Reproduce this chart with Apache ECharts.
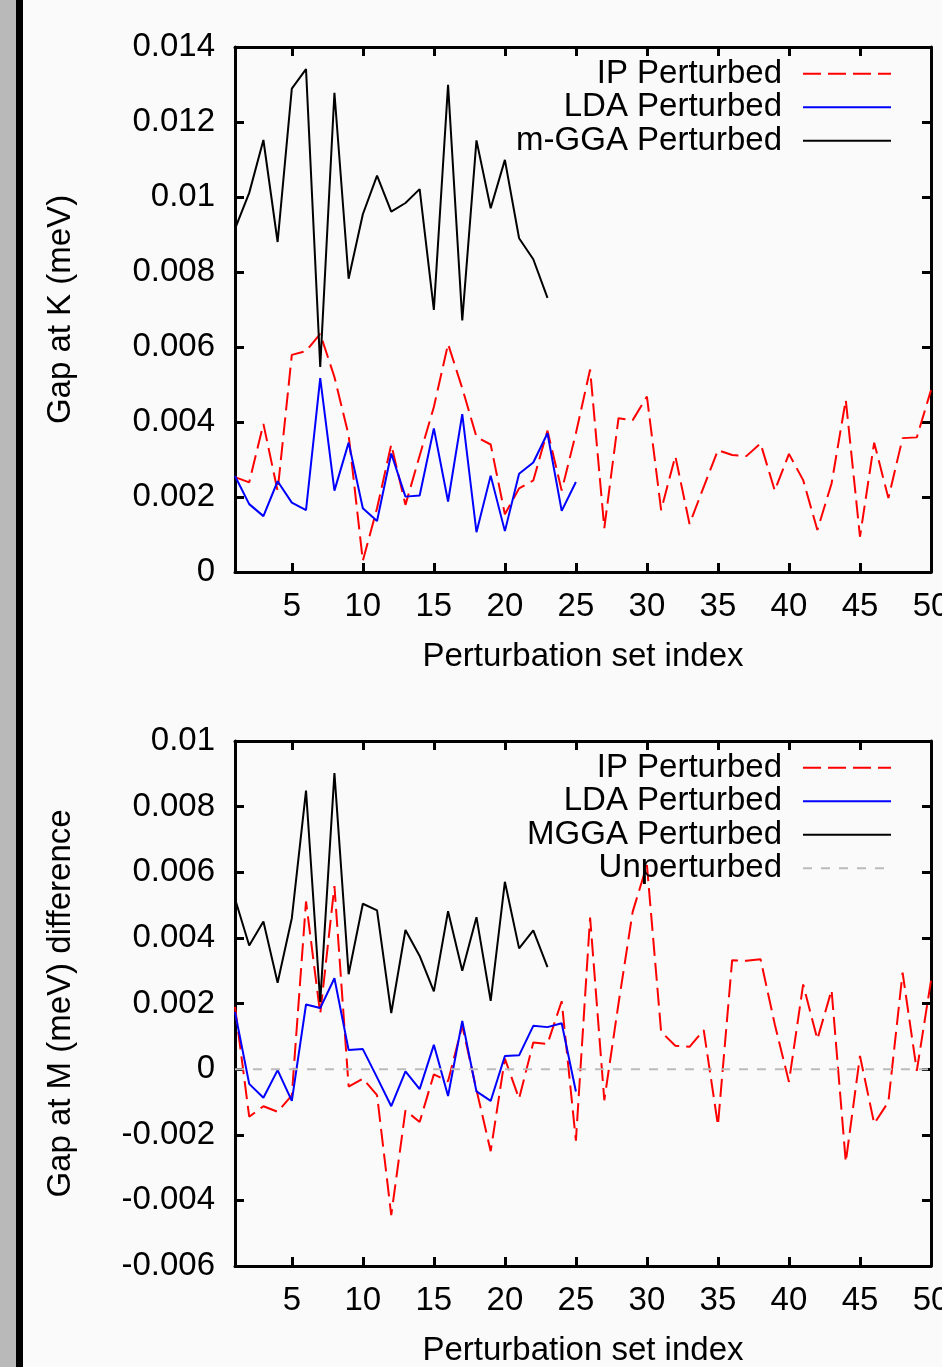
<!DOCTYPE html>
<html>
<head>
<meta charset="utf-8">
<script src="https://cdn.jsdelivr.net/npm/echarts@6/dist/echarts.min.js"></script>
<style>
  html, body { margin: 0; padding: 0; background: #fafafa; }
  #chart { width: 942px; height: 1367px; }
</style>
</head>
<body>
<div id="chart"></div>
<script>
// x: perturbation set index
var setIndex = [1, 2, 3, 4, 5, 6, 7, 8, 9, 10, 11, 12, 13, 14, 15, 16, 17, 18, 19, 20,
  21, 22, 23, 24, 25, 26, 27, 28, 29, 30, 31, 32, 33, 34, 35, 36, 37, 38, 39, 40,
  41, 42, 43, 44, 45, 46, 47, 48, 49, 50];
var xTicks = [5, 10, 15, 20, 25, 30, 35, 40, 45, 50];

// gap at K
var ipK = [0.00253, 0.00239, 0.00395, 0.00216, 0.00579, 0.00589, 0.00635, 0.0052, 0.00365, 0.0003,
  0.0017, 0.0034, 0.00179, 0.0031, 0.0044, 0.00608, 0.0049, 0.0036, 0.0034, 0.00154,
  0.00223, 0.00244, 0.00377, 0.00217, 0.0037, 0.0054, 0.00117, 0.0041, 0.00405, 0.00468,
  0.00165, 0.00309, 0.00128, 0.00227, 0.00325, 0.00312, 0.00309, 0.00343, 0.00217, 0.00315,
  0.00245, 0.00112, 0.00236, 0.00459, 0.00094, 0.00345, 0.00197, 0.00357, 0.00359, 0.00485];
var ldaK = [0.00256, 0.00181, 0.00149, 0.00242, 0.00185, 0.00165, 0.00517, 0.00217, 0.00345, 0.0017,
  0.00136, 0.00316, 0.00201, 0.00204, 0.00383, 0.00188, 0.00421, 0.00106, 0.00257, 0.00109,
  0.00262, 0.00292, 0.0037, 0.00163, 0.0024];
var mggaK = [0.00915, 0.01011, 0.01152, 0.0088, 0.01289, 0.01341, 0.00547, 0.01278, 0.00782, 0.00954,
  0.01057, 0.00961, 0.00984, 0.01021, 0.00699, 0.01299, 0.00671, 0.01151, 0.0097, 0.01099,
  0.0089, 0.00834, 0.00731];

// gap at M difference
var ipM = [0.0019, -0.00145, -0.00113, -0.0013, -0.0008, 0.00511, 0.00168, 0.00558, -0.00053, -0.00029,
  -0.00079, -0.00445, -0.00126, -0.00161, -0.00016, -0.00037, 0.00132, -0.00063, -0.0025, 0.00032,
  -0.0009, 0.00081, 0.00077, 0.00207, -0.00218, 0.00462, -0.00095, 0.002, 0.0048, 0.00622,
  0.00114, 0.00071, 0.00068, 0.00119, -0.00171, 0.00332, 0.0033, 0.00335, 0.00137, -0.00039,
  0.00258, 0.00091, 0.00241, -0.00283, 0.0004, -0.00166, -0.001, 0.00294, -0.00005, 0.0027];
var ldaM = [0.00174, -0.00045, -0.00087, -0.00003, -0.00097, 0.00197, 0.00186, 0.00277, 0.00058, 0.00061,
  -0.00025, -0.00113, -0.00007, -0.00061, 0.00074, -0.00082, 0.00147, -0.00068, -0.00097, 0.0004,
  0.00042, 0.00132, 0.00128, 0.0014, -0.00068];
var mggaM = [0.00519, 0.00377, 0.0045, 0.00263, 0.0046, 0.00849, 0.00205, 0.00902, 0.00289, 0.00504,
  0.00484, 0.00171, 0.00424, 0.00345, 0.00237, 0.00481, 0.003, 0.00463, 0.00208, 0.00571,
  0.00368, 0.00423, 0.00311];
var unpertX = [1, 50];
var unpertY = [0, 0];

function pairs(xs, ys) {
  return ys.map(function (v, i) { return [xs[i], v]; });
}

var FONT = 'Liberation Sans';
var FS = 33;
var frame = { show: true, onZero: false, lineStyle: { color: '#000', width: 3 } };
var tickIn = { show: true, inside: true, length: 9, lineStyle: { color: '#000', width: 3 } };

function xAxes(grid) {
  var base = {
    type: 'value', gridIndex: grid, min: 1, max: 50,
    axisLine: frame, splitLine: { show: false }
  };
  return [
    Object.assign({}, base, {
      position: 'bottom',
      axisTick: Object.assign({ customValues: xTicks }, tickIn),
      axisLabel: { customValues: xTicks, color: '#000', fontFamily: FONT, fontSize: FS, margin: 18 },
      name: 'Perturbation set index', nameLocation: 'middle', nameGap: 68,
      nameTextStyle: { color: '#000', fontFamily: FONT, fontSize: FS }
    }),
    Object.assign({}, base, {
      position: 'top',
      axisTick: Object.assign({ customValues: xTicks }, tickIn),
      axisLabel: { show: false }
    })
  ];
}

function yAxes(grid, min, max, title) {
  var base = {
    type: 'value', gridIndex: grid, min: min, max: max, interval: 0.002,
    axisLine: frame, axisTick: tickIn, splitLine: { show: false }
  };
  return [
    Object.assign({}, base, {
      position: 'left',
      axisLabel: { color: '#000', fontFamily: FONT, fontSize: FS, margin: 20 },
      name: title, nameLocation: 'middle', nameGap: 158,
      nameTextStyle: { color: '#000', fontFamily: FONT, fontSize: FS }
    }),
    Object.assign({}, base, { position: 'right', axisLabel: { show: false } })
  ];
}

function line(name, xi, yi, data, color, type) {
  return {
    name: name, type: 'line', xAxisIndex: xi, yAxisIndex: yi, data: data,
    symbol: 'none', z: 3,
    lineStyle: { color: color, width: 2, type: type },
    itemStyle: { color: color }
  };
}

var chart = echarts.init(document.getElementById('chart'), null, { renderer: 'canvas' });

// legend: text on the left, line sample on the right (no symbol dot)
var legendBase = {
  orient: 'vertical', align: 'right', right: 45, itemWidth: 88, itemHeight: 14, itemGap: 0,
  selectedMode: false,
  itemStyle: { opacity: 0 },
  textStyle: { color: '#000', fontFamily: FONT, fontSize: FS, lineHeight: 33.5, padding: [0, 16, 0, 0] }
};

var option = {
  animation: false,
  backgroundColor: '#fafafa',
  graphic: [
    { type: 'rect', shape: { x: 0, y: 0, width: 16, height: 1367 }, style: { fill: '#b9b9b9' } },
    { type: 'rect', shape: { x: 16, y: 0, width: 7, height: 1367 }, style: { fill: '#000' } }
  ],
  grid: [
    { left: 235, right: 11, top: 47, height: 525, outerBoundsMode: 'none', containLabel: false },
    { left: 235, right: 11, top: 741, height: 525, outerBoundsMode: 'none', containLabel: false }
  ],
  legend: [
    Object.assign({}, legendBase, { top: 52, data: ['IP Perturbed', 'LDA Perturbed', 'm-GGA Perturbed'] }),
    Object.assign({}, legendBase, { top: 746, data: ['IP Perturbed', 'LDA Perturbed', 'MGGA Perturbed', 'Unperturbed'] })
  ],
  xAxis: xAxes(0).concat(xAxes(1)),
  yAxis: yAxes(0, 0, 0.014, 'Gap at K (meV)').concat(yAxes(1, -0.006, 0.01, 'Gap at M (meV) difference')),
  series: [
    line('IP Perturbed', 0, 0, pairs(setIndex, ipK), '#ff0000', [18, 7]),
    line('LDA Perturbed', 0, 0, pairs(setIndex, ldaK), '#0000ff', 'solid'),
    line('m-GGA Perturbed', 0, 0, pairs(setIndex, mggaK), '#000000', 'solid'),
    line('IP Perturbed', 2, 2, pairs(setIndex, ipM), '#ff0000', [18, 7]),
    line('LDA Perturbed', 2, 2, pairs(setIndex, ldaM), '#0000ff', 'solid'),
    line('MGGA Perturbed', 2, 2, pairs(setIndex, mggaM), '#000000', 'solid'),
    line('Unperturbed', 2, 2, pairs(unpertX, unpertY), '#bbbbbb', [9, 9])
  ]
};

chart.setOption(option);
</script>
</body>
</html>
